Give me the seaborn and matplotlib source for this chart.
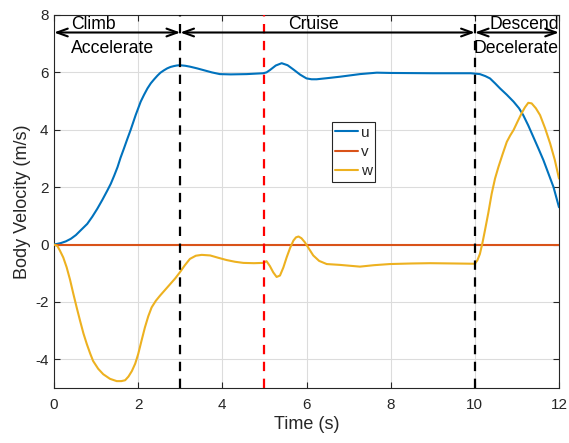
import numpy as np
import pandas as pd
import matplotlib
matplotlib.use("Agg")
import matplotlib.pyplot as plt
import seaborn as sns

# Body-frame velocity components over the flight (time in s, velocity in m/s)
u_time = [0, 0.16, 0.28, 0.40, 0.52, 0.63, 0.79, 0.91, 1.03, 1.15, 1.27, 1.35, 1.43,
          1.51, 1.58, 1.66, 1.74, 1.82, 1.94, 2.06, 2.14, 2.22, 2.30, 2.38, 2.46,
          2.53, 2.61, 2.69, 2.77, 2.85, 2.92, 2.99, 3.12, 3.23,
          3.40, 3.55, 3.75, 3.94, 4.2, 4.58, 4.97, 5.05, 5.13, 5.27, 5.41, 5.55,
          5.69, 5.85, 6.0, 6.12, 6.24, 6.5, 6.8, 7.27, 7.67, 8.0, 9.0, 9.65, 9.9,
          10.12, 10.25, 10.36, 10.48, 10.6, 10.76, 10.92, 11.05, 11.15, 11.27,
          11.39, 11.51, 11.63, 11.75, 11.87, 12.0]
u_vel = [0, 0.05, 0.11, 0.2, 0.33, 0.49, 0.72, 0.97, 1.25, 1.56, 1.89, 2.12, 2.4,
         2.7, 3.02, 3.34, 3.67, 3.99, 4.51, 4.98, 5.22, 5.44, 5.62, 5.76, 5.89,
         5.99, 6.07, 6.14, 6.19, 6.22, 6.24, 6.25, 6.23, 6.2,
         6.14, 6.08, 6.0, 5.94, 5.93, 5.94, 5.97, 6.0, 6.08, 6.24, 6.32, 6.25,
         6.1, 5.92, 5.79, 5.76, 5.76, 5.8, 5.85, 5.94, 5.99, 5.98, 5.97, 5.97, 5.97,
         5.94, 5.87, 5.79, 5.62, 5.44, 5.22, 4.98, 4.75, 4.51, 4.15,
         3.75, 3.35, 2.94, 2.47, 2.0, 1.3]

v_time = [0, 12]
v_vel = [0, 0]

w_time = [0, 0.08, 0.14, 0.22, 0.3, 0.38, 0.46, 0.54, 0.62, 0.70, 0.78, 0.86, 0.93,
          1.05, 1.17, 1.33, 1.49, 1.6, 1.69, 1.77, 1.85, 1.93, 2.0, 2.08, 2.16,
          2.24, 2.32, 2.42, 2.52, 2.64, 2.76, 2.88, 2.99, 3.11, 3.23, 3.37, 3.51,
          3.71, 3.9, 4.1, 4.3, 4.5, 4.75, 4.97, 5.05, 5.13, 5.21, 5.29, 5.37, 5.45,
          5.53, 5.61, 5.69, 5.75, 5.81, 5.88, 5.96, 6.06, 6.16, 6.3, 6.48, 6.8,
          7.27, 7.6, 7.98, 8.5, 8.94, 9.5, 10.0, 10.06, 10.12, 10.18, 10.24, 10.32,
          10.4, 10.48, 10.56, 10.66, 10.76, 10.84, 10.92, 11.02, 11.11, 11.19,
          11.27, 11.35, 11.45, 11.55, 11.67, 11.79, 11.9, 12.0]
w_vel = [0, -0.05, -0.21, -0.45, -0.79, -1.22, -1.72, -2.2, -2.66, -3.1, -3.47, -3.8, -4.06,
         -4.33, -4.52, -4.68, -4.76, -4.76, -4.73, -4.6, -4.41, -4.15, -3.82, -3.35, -2.89,
         -2.5, -2.19, -1.96, -1.78, -1.58, -1.38, -1.18, -0.97, -0.72, -0.5, -0.39, -0.36,
         -0.38, -0.46, -0.54, -0.6, -0.64, -0.65, -0.64, -0.58, -0.75, -0.97, -1.13, -1.08, -0.8,
         -0.44, -0.12, 0.14, 0.25, 0.28, 0.22, 0.08, -0.15, -0.38, -0.57, -0.68, -0.71,
         -0.77, -0.72, -0.68, -0.66, -0.65, -0.66, -0.67, -0.55, -0.33, 0.05, 0.49, 1.1,
         1.77, 2.3, 2.7, 3.15, 3.58, 3.8, 3.99, 4.3, 4.57, 4.78,
         4.94, 4.92, 4.75, 4.51, 4.05, 3.52, 2.95, 2.3]

series_names = ["u", "v", "w"]
series_colors = ["#0072BD", "#D95319", "#EDB120"]

# Flight phases: (start, end) and their labels
phase_bounds = [(0, 3), (3, 10), (10, 12)]
phase_top = ["Climb", "Cruise", "Descend"]
phase_bottom = ["Accelerate", "", "Decelerate"]
phase_top_x = [0.4, 5.57, 10.34]
phase_bottom_x = [0.4, 0, 9.96]
phase_lines = [3, 10]
mid_line = 5

df = pd.concat([
    pd.DataFrame({"t": u_time, "vel": u_vel, "series": "u"}),
    pd.DataFrame({"t": v_time, "vel": v_vel, "series": "v"}),
    pd.DataFrame({"t": w_time, "vel": w_vel, "series": "w"}),
], ignore_index=True)

sns.set_style("white")
plt.rcParams["font.family"] = ["Liberation Sans", "DejaVu Sans"]
plt.rcParams["axes.unicode_minus"] = False
axis_gray = "#262626"

fig = plt.figure(figsize=(5.69, 4.43), dpi=100)
ax = fig.add_axes([54 / 569, 1 - 388 / 443, 505 / 569, 373 / 443])

sns.lineplot(data=df, x="t", y="vel", hue="series", hue_order=series_names,
             palette=series_colors, estimator=None, sort=False, linewidth=1.5,
             ax=ax, legend=False, zorder=3)

# Phase boundaries
for xv in phase_lines:
    ax.axvline(xv, color="black", lw=1.6, dashes=(4.2, 3.4), zorder=4)
ax.axvline(mid_line, color="red", lw=1.6, dashes=(4.2, 3.4), zorder=4)

# Phase arrows and labels
arrow_y = 7.39
for (a, b) in phase_bounds:
    ax.annotate("", xy=(b, arrow_y), xytext=(a, arrow_y),
                arrowprops=dict(arrowstyle="<->,head_length=0.55,head_width=0.2",
                                lw=1.5, color="black", shrinkA=0, shrinkB=0,
                                mutation_scale=14),
                zorder=5, annotation_clip=False)
for txt, xv in zip(phase_top, phase_top_x):
    ax.text(xv, 7.51, txt, fontsize=12.7, color="black", ha="left", va="baseline", zorder=5)
for txt, xv in zip(phase_bottom, phase_bottom_x):
    if txt:
        ax.text(xv, 6.68, txt, fontsize=12.7, color="black", ha="left", va="baseline", zorder=5)

ax.set_xlim(0, 12)
ax.set_ylim(-5, 8)
ax.set_xticks(np.arange(0, 13, 2))
ax.set_yticks(np.arange(-4, 9, 2))
ax.grid(True, color="#dcdcdc", lw=0.8)
ax.set_axisbelow(True)

for sp in ax.spines.values():
    sp.set_visible(True)
    sp.set_color(axis_gray)
    sp.set_linewidth(0.8)
ax.tick_params(direction="in", length=4, width=0.8, color=axis_gray,
               labelcolor=axis_gray, labelsize=11, top=True, right=True,
               bottom=True, left=True)
ax.tick_params(axis="x", pad=7)
ax.tick_params(axis="y", pad=4)

ax.set_xlabel("Time (s)", fontsize=13, color=axis_gray, labelpad=3)
ax.set_ylabel("Body Velocity (m/s)", fontsize=13, color=axis_gray, labelpad=3)

handles = [plt.Line2D([], [], color=c, lw=1.5) for c in series_colors]
leg = ax.legend(handles, series_names, loc="center", bbox_to_anchor=(0.593, 0.633),
                fontsize=11, frameon=True, fancybox=False, framealpha=1,
                edgecolor=axis_gray, handlelength=1.45, handletextpad=0.2,
                borderpad=0.25, labelspacing=0.35, borderaxespad=0)
leg.get_frame().set_linewidth(0.8)
leg.set_zorder(6)

fig.savefig("out.png", dpi=100)
